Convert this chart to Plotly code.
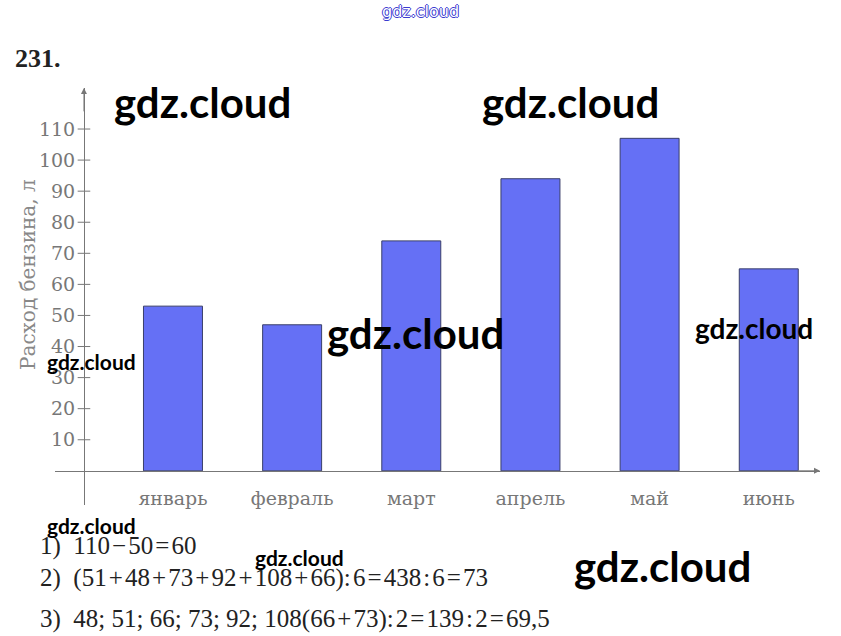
import plotly.graph_objects as go

months = ["январь", "февраль", "март", "апрель", "май", "июнь"]
fuel = [53, 47, 74, 94, 107, 65]
y_ticks = [10, 20, 30, 40, 50, 60, 70, 80, 90, 100, 110]

hs = "\u200a"
solution_lines = [
    f"1)  110{hs}−{hs}50{hs}={hs}60",
    f"2)  (51{hs}+{hs}48{hs}+{hs}73{hs}+{hs}92{hs}+{hs}108{hs}+{hs}66):{hs}6{hs}={hs}438{hs}:{hs}6{hs}={hs}73",
    f"3)  48; 51; 66; 73; 92; 108(66{hs}+{hs}73):{hs}2{hs}={hs}139{hs}:{hs}2{hs}={hs}69,5",
]

x_rng = [-0.99, 5.43]
y_rng = [-11, 123.2]
y_axis_x = -0.747
grey = "#777777"
serif = "Liberation Serif"
book = "DejaVu Serif"

fig = go.Figure()

fig.add_trace(go.Bar(x = months, y = fuel, width = 0.495,
                     marker = dict(color = "#6570F5", line = dict(color = "#3a3f6a", width = 1)),
                     showlegend = False, hoverinfo = "skip"))

# cross ticks on the y axis
fig.add_trace(go.Scatter(x = [y_axis_x] * len(y_ticks), y = y_ticks, mode = "markers",
                         marker = dict(symbol = "line-ew", size = 9, line = dict(color = grey, width = 1)),
                         xaxis = "x2", showlegend = False, hoverinfo = "skip"))

annotations = []

# axis arrows
annotations.append(dict(x = x_rng[1], y = 0, ax = x_rng[1] - 0.2, ay = 0, xref = "x2", yref = "y",
                        axref = "x2", ayref = "y", text = "", showarrow = True,
                        arrowhead = 2, arrowsize = 1.2, arrowwidth = 1, arrowcolor = grey))
annotations.append(dict(x = y_axis_x, y = y_rng[1], ax = y_axis_x, ay = y_rng[1] - 8, xref = "x2", yref = "y",
                        axref = "x2", ayref = "y", text = "", showarrow = True,
                        arrowhead = 2, arrowsize = 1.2, arrowwidth = 1, arrowcolor = grey))

annotations.append(dict(text = "Расход бензина, л", textangle = -90, x = 14, y = 275,
                        font = dict(family = book, size = 20, color = "#888888"), showarrow = False))

annotations.append(dict(text = "<b>231.</b>", x = 13, y = 58, xanchor = "left",
                        font = dict(family = serif, size = 26, color = "#222222"), showarrow = False))

for i, line in enumerate(solution_lines):
    annotations.append(dict(text = line, x = 38, y = [546, 578, 619][i], xanchor = "left",
                            font = dict(family = serif, size = 25, color = "#222222"), showarrow = False))

# watermarks
marks = [(112, 102, 42), (480, 102, 42), (325, 333, 42), (572, 566, 42),
         (693, 328, 28), (45, 361, 21), (45, 525, 21), (253, 557, 21)]
for x0, y0, s in marks:
    annotations.append(dict(text = "gdz.cloud", x = x0, y = y0, xanchor = "left",
                            font = dict(family = "Lato", size = s, color = "#000000", weight = "bold"),
                            showarrow = False))

annotations.append(dict(text = "gdz.cloud", x = 420, y = 11,
                        font = dict(family = "DejaVu Sans", size = 16, color = "#ffffff",
                                    shadow = "1px 0 #3b3bd0, -1px 0 #3b3bd0, 0 1px #3b3bd0, 0 -1px #3b3bd0"),
                        showarrow = False))

# convert pixel positions of free annotations to paper coordinates
L, R, T, B = 55, 21, 88, 131
pw, ph = 841 - L - R, 636 - T - B
for a in annotations:
    if "xref" not in a:
        a["xref"] = "paper"
        a["yref"] = "paper"
        a["x"] = (a["x"] - L) / pw
        a["y"] = 1 - (a["y"] - T) / ph
        a.setdefault("yanchor", "middle")

fig.update_layout(width = 841, height = 636,
                  margin = dict(l = L, r = R, t = T, b = B),
                  plot_bgcolor = "white", paper_bgcolor = "white",
                  annotations = annotations,
                  xaxis = dict(range = x_rng, type = "category", categoryorder = "array", categoryarray = months,
                               anchor = "free", position = (0 - y_rng[0]) / (y_rng[1] - y_rng[0]),
                               showline = True, linecolor = grey, linewidth = 1, showgrid = False,
                               zeroline = False, ticks = "", ticklabelstandoff = 10,
                               tickfont = dict(family = book, size = 19, color = "#777777")),
                  xaxis2 = dict(range = x_rng, overlaying = "x", visible = False),
                  yaxis = dict(range = y_rng, anchor = "free",
                               position = (y_axis_x - x_rng[0]) / (x_rng[1] - x_rng[0]),
                               showline = True, linecolor = grey, linewidth = 1, showgrid = False,
                               zeroline = False, ticks = "", tickvals = y_ticks, ticklabelstandoff = 5,
                               tickfont = dict(family = book, size = 19, color = "#777777")))

fig.write_html("out.html", config = dict(displayModeBar = False),
               post_script = "document.body.style.margin = '0';")
